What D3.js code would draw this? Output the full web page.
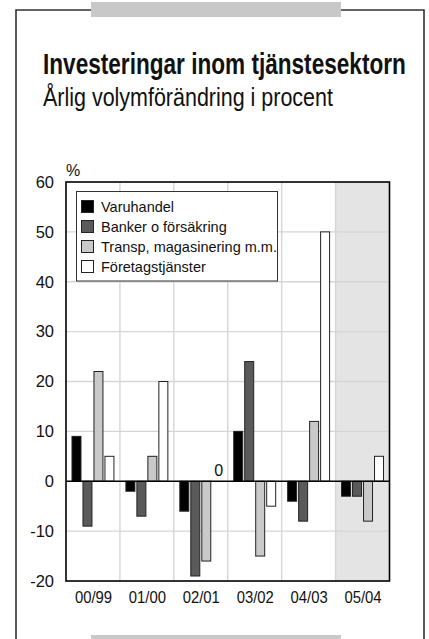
<!DOCTYPE html>
<html>
<head>
<meta charset="utf-8">
<script src="https://cdn.jsdelivr.net/npm/d3@7"></script>
<style>
  html, body { margin: 0; padding: 0; background: #fff; }
  svg { display: block; }
  text { font-family: "Liberation Sans", Arial, Helvetica, sans-serif; fill: #111; }
</style>
</head>
<body>
<svg id="chart" width="429" height="639"></svg>
<script>
// Investeringar inom tjänstesektorn – årlig volymförändring i procent
const categories = ["00/99", "01/00", "02/01", "03/02", "04/03", "05/04"];
const seriesNames = ["Varuhandel", "Banker o försäkring", "Transp, magasinering m.m.", "Företagstjänster"];
const varuhandel   = [9, -2, -6, 10, -4, -3];
const banker       = [-9, -7, -19, 24, -8, -3];
const transp       = [22, 5, -16, -15, 12, -8];
const foretag      = [5, 20, 0, -5, 50, 5];
const yTicks = [60, 50, 40, 30, 20, 10, 0, -10, -20];
const forecastCategory = "05/04";

const seriesValues = [varuhandel, banker, transp, foretag];
const colors = ["#000000", "#5a5a5a", "#c9c9c9", "#ffffff"];

const svg = d3.select("#chart");

// page frame and tabs
const frame = { left: 16, right: 424, top: 10 };
svg.append("path")
  .attr("d", `M${frame.left},650 V${frame.top} H${frame.right} V650`)
  .attr("fill", "none").attr("stroke", "#333").attr("stroke-width", 1.6);
svg.append("rect").attr("x", 91).attr("y", 2).attr("width", 250).attr("height", 15).attr("fill", "#c8c8c8");
svg.append("rect").attr("x", 91).attr("y", 635).attr("width", 250).attr("height", 15).attr("fill", "#c8c8c8");

// headings, fitted horizontally to a fixed width
function fitText(sel, x, y, width) {
  const w = sel.node().getComputedTextLength();
  sel.attr("x", 0).attr("y", 0)
    .attr("transform", `translate(${x},${y}) scale(${width / w},1)`);
}
const title = svg.append("text")
  .style("font-family", "'Liberation Sans Narrow', 'Liberation Sans', Arial, sans-serif")
  .style("font-weight", "bold").style("font-size", "29px")
  .text("Investeringar inom tjänstesektorn");
fitText(title, 43, 74, 363);
const subtitle = svg.append("text")
  .style("font-family", "'Liberation Sans Narrow', 'Liberation Sans', Arial, sans-serif")
  .style("font-size", "25px")
  .text("Årlig volymförändring i procent");
fitText(subtitle, 43, 106, 290);

// plot area
const plot = { left: 66, right: 389.5, top: 182, bottom: 581 };

const x0 = d3.scaleBand().domain(categories).range([plot.left, plot.right]).paddingInner(0).paddingOuter(0);
const x1 = d3.scaleBand().domain(seriesNames).range([0, x0.bandwidth()])
  .paddingInner(2 / 11).paddingOuter(0.545);
const y = d3.scaleLinear().domain([-20, 60]).range([plot.bottom, plot.top]);

// forecast shading
svg.append("rect")
  .attr("x", x0(forecastCategory)).attr("y", plot.top)
  .attr("width", plot.right - x0(forecastCategory)).attr("height", plot.bottom - plot.top)
  .attr("fill", "#e4e4e4");

// grid
const grid = svg.append("g").attr("stroke", "#d6d6d6").attr("stroke-width", 1.4);
grid.selectAll("line.h").data(yTicks.filter(t => t !== 0 && t !== 60 && t !== -20)).join("line")
  .attr("x1", plot.left).attr("x2", plot.right)
  .attr("y1", d => y(d)).attr("y2", d => y(d));
grid.selectAll("line.v").data(categories.slice(1)).join("line")
  .attr("x1", d => x0(d)).attr("x2", d => x0(d))
  .attr("y1", plot.top).attr("y2", plot.bottom);

// bars
const barData = [];
categories.forEach((c, i) => {
  seriesNames.forEach((s, j) => barData.push({ cat: c, series: s, value: seriesValues[j][i], color: colors[j] }));
});
svg.append("g").selectAll("rect").data(barData.filter(d => d.value !== 0)).join("rect")
  .attr("x", d => x0(d.cat) + x1(d.series))
  .attr("width", x1.bandwidth())
  .attr("y", d => y(Math.max(0, d.value)))
  .attr("height", d => Math.abs(y(d.value) - y(0)))
  .attr("fill", d => d.color)
  .attr("stroke", "#222").attr("stroke-width", 1);

// zero-value label
svg.append("g").selectAll("text").data(barData.filter(d => d.value === 0)).join("text")
  .attr("x", d => x0(d.cat) + x1(d.series) + x1.bandwidth() / 2 + 1.5)
  .attr("y", y(0) - 5)
  .attr("text-anchor", "middle")
  .style("font-size", "16px")
  .text(d => d.value);

// zero line and frame
svg.append("line")
  .attr("x1", plot.left).attr("x2", plot.right).attr("y1", y(0)).attr("y2", y(0))
  .attr("stroke", "#000").attr("stroke-width", 1.6);
svg.append("rect")
  .attr("x", plot.left).attr("y", plot.top)
  .attr("width", plot.right - plot.left).attr("height", plot.bottom - plot.top)
  .attr("fill", "none").attr("stroke", "#000").attr("stroke-width", 1.6);

// y axis labels
const yAxis = d3.axisLeft(y).tickValues(yTicks).tickSize(0).tickPadding(12).tickFormat(d => String(d));
const yg = svg.append("g").attr("transform", `translate(${plot.left},0)`).call(yAxis);
yg.select(".domain").remove();
yg.selectAll("text").style("font-size", "16.5px").style("font-family", "'Liberation Sans', Arial, sans-serif").attr("fill", "#111");

svg.append("text").attr("x", 66).attr("y", 176).style("font-size", "16px").text("%");

// x axis labels
const xAxis = d3.axisBottom(x0).tickSize(0).tickPadding(0);
const xg = svg.append("g").attr("transform", `translate(0,${plot.bottom})`).call(xAxis);
xg.select(".domain").remove();
xg.selectAll("text")
  .attr("y", 0).attr("dy", null)
  .attr("transform", "translate(0,22) scale(0.9,1)")
  .style("font-size", "16.5px").style("font-family", "'Liberation Sans', Arial, sans-serif").attr("fill", "#111");
xg.selectAll(".tick").each(function () {
  const t = d3.select(this);
  const tx = +t.attr("transform").match(/translate\(([-\d.]+)/)[1];
  t.attr("transform", `translate(${tx + 0.5},0)`);
});

// legend
const legend = svg.append("g");
legend.append("rect")
  .attr("x", 76.5).attr("y", 191.5).attr("width", 201).attr("height", 89.5)
  .attr("fill", "#fff").attr("stroke", "#333").attr("stroke-width", 1);
const rowY = d3.scalePoint().domain(seriesNames).range([206.5, 266.5]);
seriesNames.forEach((s, j) => {
  legend.append("rect")
    .attr("x", 81.5).attr("y", rowY(s) - 6).attr("width", 12).attr("height", 12)
    .attr("fill", colors[j]).attr("stroke", "#222").attr("stroke-width", 1);
  legend.append("text")
    .attr("x", 101).attr("y", rowY(s) + 5.5)
    .style("font-size", "14.5px")
    .text(s);
});
</script>
</body>
</html>
